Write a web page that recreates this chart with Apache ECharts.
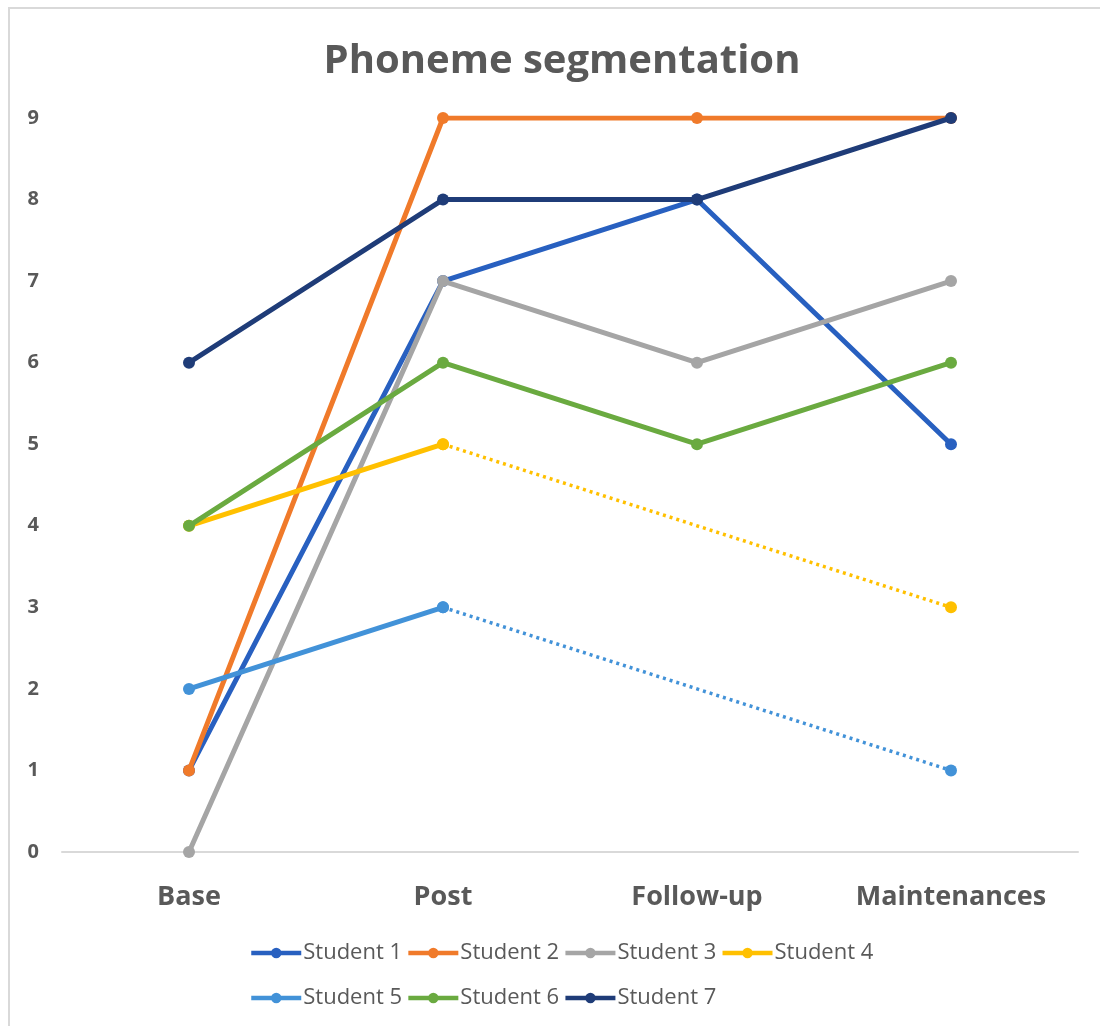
<!DOCTYPE html>
<html>
<head>
<meta charset="utf-8">
<script src="https://cdn.jsdelivr.net/npm/echarts@6/dist/echarts.min.js"></script>
<style>
html,body{margin:0;padding:0;background:#fff;}
#chart{width:1100px;height:1026px;}
</style>
</head>
<body>
<div id="chart"></div>
<script>
const categories = ['Base', 'Post', 'Follow-up', 'Maintenances'];
const yTicks = [0, 1, 2, 3, 4, 5, 6, 7, 8, 9];
const student1 = [1, 7, 8, 5];
const student2 = [1, 9, 9, 9];
const student3 = [0, 7, 6, 7];
const student4 = [4, 5, null, 3];
const student5 = [2, 3, null, 1];
const student6 = [4, 6, 5, 6];
const student7 = [6, 8, 8, 9];
const names = ['Student 1','Student 2','Student 3','Student 4','Student 5','Student 6','Student 7'];
const colors = ['#2860C0','#F07A2A','#A5A5A5','#FFC000','#4292D8','#6AAA40','#1F3C78'];

const allData = [student1, student2, student3, student4, student5, student6, student7];

function solidPart(d){
  const out = [];
  let gap = false;
  for (let i=0;i<d.length;i++){
    if (d[i] === null) gap = true;
    out.push(gap ? null : d[i]);
  }
  return out;
}
function dottedPart(d){
  const out = d.map(() => null);
  const g = d.indexOf(null);
  if (g < 0) return out;
  out[g-1] = d[g-1];
  for (let i=g;i<d.length;i++) out[i] = d[i];
  return out;
}

const series = [];
allData.forEach((d, i) => {
  series.push({
    name: names[i], type: 'line', data: solidPart(d),
    symbol: 'circle', symbolSize: 12,
    itemStyle: {color: colors[i]},
    lineStyle: {color: colors[i], width: 5},
    z: 2 + i
  });
  if (d.indexOf(null) >= 0) {
    series.push({
      name: names[i], type: 'line', data: dottedPart(d), connectNulls: true,
      symbol: 'circle', symbolSize: 12,
      itemStyle: {color: colors[i]},
      lineStyle: {color: colors[i], width: 3.5, type: [3, 4]},
      z: 2 + i
    });
  }
});

const legendCommon = {
  itemWidth: 50, itemHeight: 13, itemGap: 4, orient: 'horizontal',
  lineStyle: {width: 4.5},
  textStyle: {fontFamily: 'Open Sans', fontSize: 22, color: '#595959', padding: [0,0,0,-3]}
};

const chart = echarts.init(document.getElementById('chart'));
chart.setOption({
  animation: false,
  backgroundColor: '#fff',
  title: {
    text: 'Phoneme segmentation', left: 557, top: 37, textAlign: 'center',
    textStyle: {fontFamily: 'Open Sans', fontWeight: 'bold', fontSize: 40, color: '#595959'}
  },
  graphic: [{
    type: 'polyline', shape: {points: [[9, 1026], [9, 8], [1100, 8]]},
    style: {stroke: '#D9D9D9', lineWidth: 2, fill: null}, silent: true
  }],
  grid: {left: 62, right: 22, top: 118, bottom: 174},
  legend: [
    Object.assign({data: names.slice(0, 4), left: 244, top: 937}, legendCommon),
    Object.assign({data: names.slice(4), left: 244, top: 982}, legendCommon)
  ],
  xAxis: {
    type: 'category', data: categories, boundaryGap: true,
    axisLine: {show: true, lineStyle: {color: '#D9D9D9', width: 2}},
    axisTick: {show: false},
    axisLabel: {fontFamily: 'Open Sans', fontWeight: 'bold', fontSize: 27, color: '#595959', margin: 32}
  },
  yAxis: {
    type: 'value', min: 0, max: 9, interval: 1,
    axisLine: {show: false}, axisTick: {show: false},
    splitLine: {show: false},
    axisLabel: {fontFamily: 'Open Sans', fontWeight: 'bold', fontSize: 20, color: '#595959', margin: 23,
      formatter: v => yTicks.includes(v) ? String(v) : ''}
  },
  series: series
});
</script>
</body>
</html>
